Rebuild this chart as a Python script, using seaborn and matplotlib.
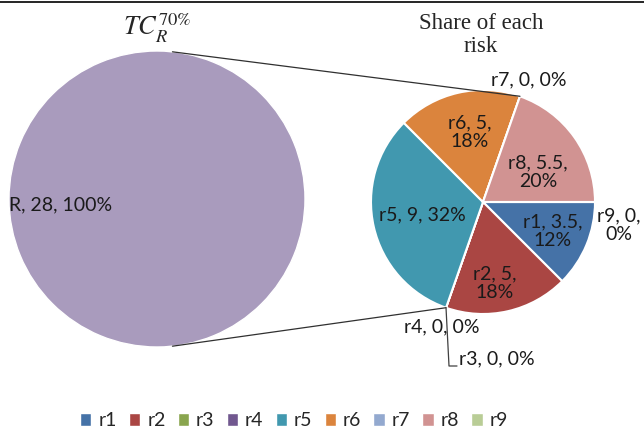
import numpy as np
import matplotlib.pyplot as plt
import seaborn as sns
from matplotlib.patches import Patch
from matplotlib.lines import Line2D

# data
risks = ['r1', 'r2', 'r3', 'r4', 'r5', 'r6', 'r7', 'r8', 'r9']
risk_values = [3.5, 5, 0, 0, 9, 5, 0, 5.5, 0]
total_name = 'R'
title_left = r'$TC_R^{70\%}$'
title_right = 'Share of each\nrisk'

risk_colors = ['#4572A7', '#AA4643', '#89A54E', '#71588F', '#4198AF',
               '#DB843D', '#93A9CF', '#D19392', '#B9CD96']
total_color = '#A99BBD'

# label layout (image pixel coords) and line wrapping
label_pos = [(553, 231), (495, 283), (497, 359), (442, 327), (422, 215),
             (470, 132), (529, 80), (538, 172), (619, 225)]
label_wrap = [True, True, False, False, False, True, False, True, True]

sns.set_theme(style='white')
plt.rcParams['font.family'] = ['Lato', 'DejaVu Sans']
plt.rcParams['mathtext.fontset'] = 'stix'

W, H = 644, 432
fig = plt.figure(figsize=(W / 100, H / 100), dpi=100)
ax = fig.add_axes([0, 0, 1, 1])

total = sum(risk_values)
left_c, left_r = (157, H - 199), 148
right_c, right_r = (483, H - 202), 112

ax.pie([total], colors=[total_color], center=left_c, radius=left_r, startangle=90)
wedges, _ = ax.pie(risk_values, colors=risk_colors, center=right_c, radius=right_r,
                   startangle=0, counterclock=False,
                   wedgeprops=dict(edgecolor='white', linewidth=1.5))


def on_circle(c, r, ang):
    a = np.deg2rad(ang)
    return c[0] + r * np.cos(a), c[1] + r * np.sin(a)


# connector lines between the two pies
top_end = on_circle(right_c, right_r, wedges[5].theta1)
bot_end = on_circle(right_c, right_r, wedges[1].theta1)
top_start = on_circle(left_c, left_r, 84)
bot_start = on_circle(left_c, left_r, -84)
ax.plot([top_start[0], top_end[0]], [top_start[1], top_end[1]], color='#303030', lw=0.9)
ax.plot([bot_start[0], bot_end[0]], [bot_start[1], bot_end[1]], color='#303030', lw=0.9)

# leader line for r3
p3 = on_circle(right_c, right_r, wedges[2].theta1)
ax.plot([p3[0], p3[0] + 3, 457], [p3[1], H - 366, H - 366], color='#404040', lw=0.9)

# slice labels
for name, v, (x, y), wrap in zip(risks, risk_values, label_pos, label_wrap):
    sep = '\n' if wrap else ' '
    txt = f"{name}, {v:g},{sep}{v / total * 100:.0f}%"
    ax.text(x, H - y, txt, ha='center', va='center', fontsize=14,
            color='#1a1a1a', linespacing=1.1)

ax.text(9, H - 205, f"{total_name}, {total:g}, 100%", ha='left', va='center',
        fontsize=14, color='#1a1a1a')

# titles
ax.text(157, H - 28, title_left, ha='center', va='center', fontsize=19)
ax.text(481, H - 35, title_right, ha='center', va='center', fontsize=16.5,
        family='Liberation Serif', linespacing=1.1)

ax.set_xlim(0, W)
ax.set_ylim(0, H)
ax.set_aspect('equal')
ax.axis('off')

handles = [Patch(facecolor=c) for c in risk_colors]
fig.legend(handles, risks, loc='center', bbox_to_anchor=(294 / W, 11 / H), ncol=9,
           frameon=False, handlelength=0.6, handleheight=0.6, handletextpad=0.35,
           columnspacing=0.62, fontsize=14)

fig.add_artist(Line2D([0, 1], [1 - 1.5 / H, 1 - 1.5 / H], transform=fig.transFigure,
                      color='black', lw=1.2))

fig.savefig('out.png', dpi=100)
